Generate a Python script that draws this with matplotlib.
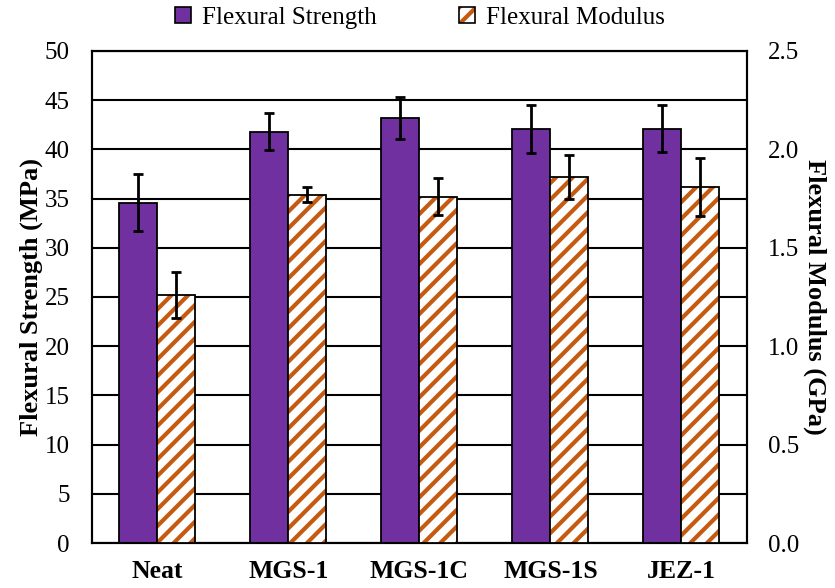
import matplotlib
matplotlib.use("Agg")
import matplotlib.pyplot as plt
import numpy as np
from matplotlib.patches import Patch
from matplotlib.legend_handler import HandlerTuple

plt.rcParams['font.family'] = ['Liberation Serif', 'DejaVu Serif']
plt.rcParams['hatch.linewidth'] = 3.0

categories = ["Neat", "MGS-1", "MGS-1C", "MGS-1S", "JEZ-1"]
strength = [34.6, 41.8, 43.2, 42.1, 42.1]        # MPa
strength_err = [2.9, 1.85, 2.1, 2.45, 2.4]
modulus = [1.26, 1.77, 1.76, 1.86, 1.81]           # GPa
modulus_err = [0.115, 0.038, 0.094, 0.11, 0.148]

purple = "#7030A0"
orange = "#C55A11"

fig = plt.figure(figsize=(8.35, 5.88), dpi=100)
ax = fig.add_axes([0.110, 0.0765, 0.7846, 0.8368])
ax2 = ax.twinx()

x = np.arange(len(categories))
w = 0.29

# strength bars on the left axis
ax.bar(x - w / 2, strength, width=w, color=purple, edgecolor="black",
       linewidth=1.3, zorder=3)
ax.errorbar(x - w / 2, strength, yerr=strength_err, fmt="none", ecolor="black",
            elinewidth=2, capsize=3.5, capthick=2, zorder=4)

# modulus bars on the right axis: hatched fill then a black outline
ax2.bar(x + w / 2, modulus, width=w, color="white", edgecolor=orange,
        hatch="//", linewidth=0, zorder=3)
ax2.bar(x + w / 2, modulus, width=w, fill=False, edgecolor="black",
        linewidth=1.3, zorder=4)
ax2.errorbar(x + w / 2, modulus, yerr=modulus_err, fmt="none", ecolor="black",
             elinewidth=2, capsize=3.5, capthick=2, zorder=5)

ax.set_xlim(-0.5, len(categories) - 0.5)
ax.set_ylim(0, 50)
ax.set_yticks(np.arange(0, 51, 5))
ax2.set_ylim(0, 2.5)
ax2.set_yticks(np.arange(0, 2.51, 0.5))
ax2.set_yticklabels([f"{v:.1f}" for v in np.arange(0, 2.51, 0.5)])

ax.yaxis.grid(True, color="black", linewidth=1.5, zorder=0)
ax.set_axisbelow(True)

ax.set_xticks(x)
ax.set_xticklabels(categories, fontsize=18.5, fontweight="bold")
ax.tick_params(axis="x", length=0, pad=12)
ax.tick_params(axis="y", length=0, labelsize=18, pad=16)
ax2.tick_params(axis="y", length=0, labelsize=18, pad=15)

for a in (ax, ax2):
    for s in a.spines.values():
        s.set_linewidth(1.5)
        s.set_color("black")

ax.set_ylabel("Flexural Strength (MPa)", fontsize=19, fontweight="bold", labelpad=1)
ax2.set_ylabel("Flexural Modulus (GPa)", fontsize=19, fontweight="bold",
               rotation=270, labelpad=20)

# legend keys: solid square, and a hatched square with a black border
h_strength = Patch(facecolor=purple, edgecolor="black", linewidth=1.2)
h_mod_fill = Patch(facecolor="white", edgecolor=orange, hatch="//", linewidth=0)
h_mod_edge = Patch(facecolor="none", edgecolor="black", linewidth=1.2)
leg = fig.legend([h_strength, (h_mod_fill, h_mod_edge)],
                 ["Flexural Strength", "Flexural Modulus"],
                 handler_map={tuple: HandlerTuple(ndivide=1, pad=0)},
                 loc="center", bbox_to_anchor=(0.503, 0.97), ncol=2,
                 frameon=False, fontsize=18, handlelength=0.62, handleheight=0.62,
                 handletextpad=0.45, columnspacing=3.3, borderpad=0.2)

fig.savefig("out.png", dpi=100)
